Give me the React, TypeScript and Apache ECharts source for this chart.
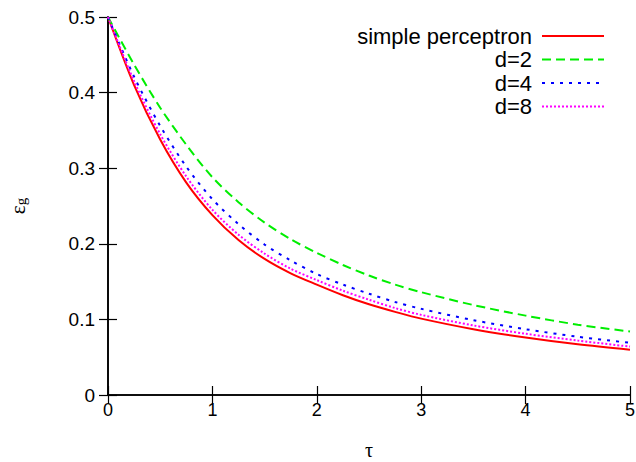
import React, { useEffect, useRef } from "react";
import * as echarts from "echarts";

const tau = [0, 0.25, 0.5, 0.75, 1, 1.25, 1.5, 1.75, 2, 2.25, 2.5, 2.75, 3, 3.5, 4, 4.5, 5];
const simplePerceptron = [0.5, 0.410, 0.338, 0.281, 0.238, 0.205, 0.180, 0.161, 0.146, 0.132, 0.120, 0.110, 0.101, 0.087, 0.076, 0.067, 0.060];
const d2 = [0.5, 0.437, 0.380, 0.331, 0.288, 0.255, 0.228, 0.206, 0.188, 0.172, 0.158, 0.146, 0.136, 0.119, 0.105, 0.093, 0.084];
const d4 = [0.5, 0.421, 0.356, 0.302, 0.259, 0.226, 0.199, 0.178, 0.160, 0.146, 0.134, 0.123, 0.114, 0.099, 0.087, 0.077, 0.069];
const d8 = [0.5, 0.415, 0.345, 0.289, 0.245, 0.212, 0.187, 0.167, 0.152, 0.138, 0.126, 0.115, 0.106, 0.092, 0.081, 0.072, 0.064];
const seriesNames = ["simple perceptron", "d=2", "d=4", "d=8"];
const xTicks = [0, 1, 2, 3, 4, 5];
const yTicks = [0, 0.1, 0.2, 0.3, 0.4, 0.5];

const FONT = "'Liberation Sans', Arial, sans-serif";
const SERIF = "'Liberation Serif', 'DejaVu Serif', serif";

export default function App() {
  const ref = useRef<HTMLDivElement>(null);
  useEffect(() => {
    if (!ref.current) return;
    const chart = echarts.init(ref.current, undefined, { renderer: "svg" });
    const pairs = (ys: number[]) => tau.map((t, i) => [t, ys[i]]);
    const mk = (name: string, ys: number[], color: string, type: any) => ({
      name,
      type: "line",
      data: pairs(ys),
      showSymbol: false,
      symbol: "none",
      smooth: 0.3,
      xAxisIndex: 0,
      yAxisIndex: 0,
      lineStyle: { color, width: 2, type },
      itemStyle: { color },
      z: 3,
    });
    const axisCommon = {
      axisLine: { show: true, lineStyle: { color: "#000", width: 1.6 } },
      axisTick: { show: true, inside: true, length: 9, lineStyle: { color: "#000", width: 1.2 } },
      splitLine: { show: false },
    };
    chart.setOption({
      animation: false,
      backgroundColor: "#fff",
      grid: { left: 108, right: 6, top: 17, bottom: 67, containLabel: false, outerBoundsMode: "none" },
      legend: {
        orient: "vertical",
        right: 26,
        top: 20,
        align: "right",
        itemWidth: 62,
        itemHeight: 10,
        itemGap: 1.5,
        data: seriesNames,
        itemStyle: { opacity: 0 },
        textStyle: {
          fontFamily: FONT,
          fontSize: 22,
          color: "#000",
          width: 185,
          align: "right",
          lineHeight: 20,
          padding: [0, 5, 0, 0],
        },
      },
      xAxis: [
        {
          type: "value",
          min: 0,
          max: 5,
          interval: 1,
          name: "τ",
          nameLocation: "middle",
          nameGap: 45,
          nameTextStyle: { fontFamily: SERIF, fontSize: 20, color: "#000" },
          axisLabel: {
            fontFamily: FONT,
            fontSize: 18,
            color: "#000",
            margin: 6,
            formatter: (v: number) => (xTicks.includes(v) ? String(v) : ""),
          },
          ...axisCommon,
        },
        {
          type: "value",
          position: "top",
          min: 0,
          max: 5,
          interval: 1,
          axisLabel: { show: false },
          ...axisCommon,
        },
      ],
      yAxis: [
        {
          type: "value",
          min: 0,
          max: 0.5,
          interval: 0.1,
          name: "{e|ε}{s|g}",
          nameLocation: "middle",
          nameGap: 80,
          nameRotate: 90,
          nameTextStyle: {
            color: "#000",
            rich: {
              e: { fontFamily: SERIF, fontSize: 21, color: "#000", verticalAlign: "bottom", lineHeight: 22 },
              s: { fontFamily: SERIF, fontSize: 15, color: "#000", verticalAlign: "bottom", lineHeight: 16, padding: [6, 0, 0, 0] },
            },
          },
          axisLabel: {
            fontFamily: FONT,
            fontSize: 19,
            color: "#000",
            margin: 13,
            formatter: (v: number) => {
              const r = Math.round(v * 10) / 10;
              return yTicks.includes(r) ? String(r) : "";
            },
          },
          ...axisCommon,
        },
        {
          type: "value",
          position: "right",
          min: 0,
          max: 0.5,
          interval: 0.1,
          axisLabel: { show: false },
          ...axisCommon,
        },
      ],
      series: [
        mk(seriesNames[0], simplePerceptron, "#ff0000", "solid"),
        mk(seriesNames[1], d2, "#00ee00", [9, 5]),
        mk(seriesNames[2], d4, "#0000ff", [3, 6]),
        mk(seriesNames[3], d8, "#ff00ff", [2, 2]),
      ],
    });
    return () => chart.dispose();
  }, []);
  return <div ref={ref} style={{ width: 636, height: 462, position: "absolute", left: 0, top: 0 }} />;
}
